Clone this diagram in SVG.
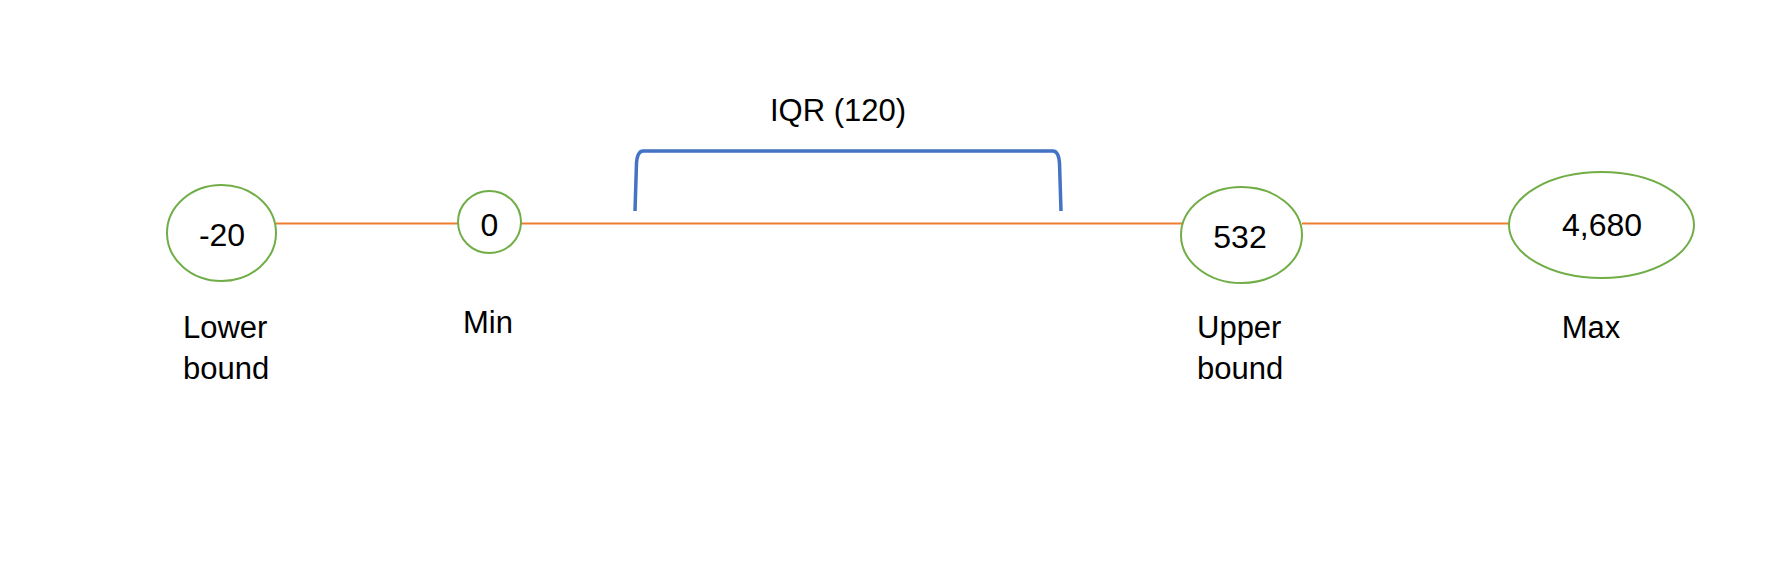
<svg xmlns="http://www.w3.org/2000/svg" width="1788" height="572" viewBox="0 0 1788 572">
<style>
.node{fill:#ffffff;stroke:#70AD47;stroke-width:2}
.conn{stroke:#ED7D31;stroke-width:2.2;fill:none}
.val{font-family:"Liberation Sans",Arial,sans-serif;font-size:32px;fill:#000;text-anchor:middle}
.lbl{font-family:"Liberation Sans",Arial,sans-serif;font-size:31px;fill:#000}
.brk{stroke:#4472C4;stroke-width:3.5;fill:none}
</style>
<rect width="1788" height="572" fill="#ffffff"/>
<g id="connectors">
<line class="conn" x1="276" y1="223.5" x2="458" y2="223.5"/>
<line class="conn" x1="521" y1="223.5" x2="1182" y2="223.5"/>
<line class="conn" x1="1302" y1="223.5" x2="1509" y2="223.5"/>
</g>
<g id="iqr">
<path class="brk" d="M635,211 L636.5,163 Q637.5,151 643,151 L1053,151 Q1058.5,151 1059.5,163 L1061,211"/>
<text class="val" x="838" y="121" style="font-size:31px">IQR (120)</text>
</g>
<g id="lower-bound">
<ellipse class="node" cx="221.5" cy="233" rx="54.5" ry="48"/>
<text class="val" x="222" y="246">-20</text>
<text class="lbl" x="183" y="338">Lower</text>
<text class="lbl" x="183" y="379">bound</text>
</g>
<g id="min">
<ellipse class="node" cx="489.5" cy="222" rx="31.5" ry="31"/>
<text class="val" x="489.5" y="235.5">0</text>
<text class="lbl" x="488" y="333" text-anchor="middle">Min</text>
</g>
<g id="upper-bound">
<ellipse class="node" cx="1241.5" cy="235" rx="60.5" ry="48"/>
<text class="val" x="1240" y="248">532</text>
<text class="lbl" x="1197" y="338">Upper</text>
<text class="lbl" x="1197" y="379">bound</text>
</g>
<g id="max">
<ellipse class="node" cx="1601.5" cy="225" rx="92.5" ry="53"/>
<text class="val" x="1602" y="236">4,680</text>
<text class="lbl" x="1591" y="338" text-anchor="middle">Max</text>
</g>
</svg>
